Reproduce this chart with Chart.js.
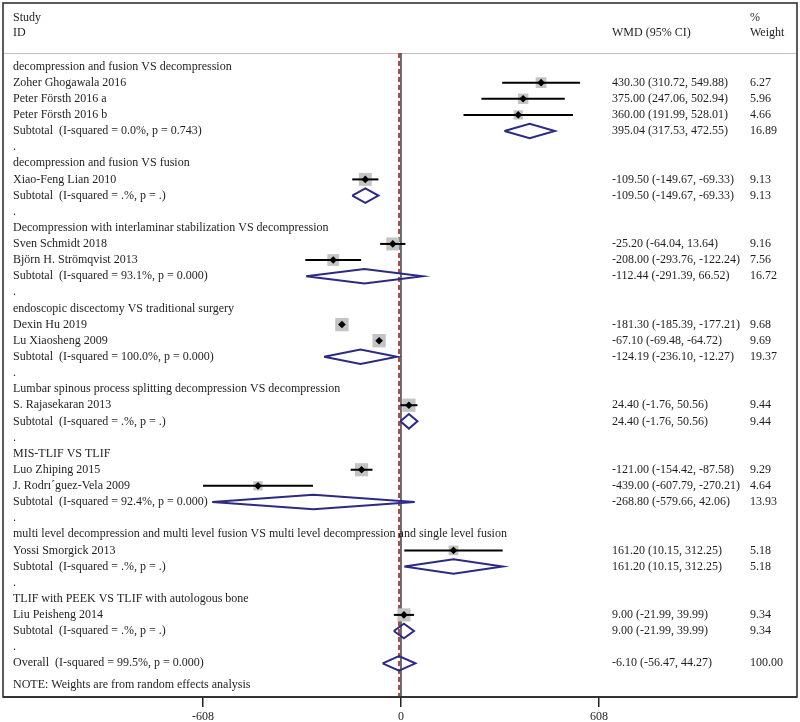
<!DOCTYPE html>
<html><head><meta charset="utf-8">
<script src="https://cdn.jsdelivr.net/npm/chart.js@4.4.1/dist/chart.umd.min.js"></script>
<style>html,body{margin:0;padding:0;background:#fff}#wrap{width:800px;height:722px;position:relative}</style>
</head><body><div id="wrap"><canvas id="c"></canvas></div>
<script>
// ---------- data ----------
const rowLabels = [
  "decompression and fusion VS decompression",
  "Zoher Ghogawala 2016",
  "Peter Försth 2016 a",
  "Peter Försth 2016 b",
  "Subtotal  (I-squared = 0.0%, p = 0.743)",
  ".",
  "decompression and fusion VS fusion",
  "Xiao-Feng Lian 2010",
  "Subtotal  (I-squared = .%, p = .)",
  ".",
  "Decompression with interlaminar stabilization VS decompression",
  "Sven Schmidt 2018",
  "Björn H. Strömqvist 2013",
  "Subtotal  (I-squared = 93.1%, p = 0.000)",
  ".",
  "endoscopic discectomy VS traditional surgery",
  "Dexin Hu 2019",
  "Lu Xiaosheng 2009",
  "Subtotal  (I-squared = 100.0%, p = 0.000)",
  ".",
  "Lumbar spinous process splitting decompression VS decompression",
  "S. Rajasekaran 2013",
  "Subtotal  (I-squared = .%, p = .)",
  ".",
  "MIS-TLIF VS TLIF",
  "Luo Zhiping 2015",
  "J. Rodrı´guez-Vela 2009",
  "Subtotal  (I-squared = 92.4%, p = 0.000)",
  ".",
  "multi level decompression and multi level fusion VS multi level decompression and single level fusion",
  "Yossi Smorgick 2013",
  "Subtotal  (I-squared = .%, p = .)",
  ".",
  "TLIF with PEEK VS TLIF with autologous bone",
  "Liu Peisheng 2014",
  "Subtotal  (I-squared = .%, p = .)",
  ".",
  "Overall  (I-squared = 99.5%, p = 0.000)"
];
const noteText = "NOTE: Weights are from random effects analysis";
const headerStudy = ["Study", "ID"];
const headerEffect = "WMD (95% CI)";
const headerWeight = ["%", "Weight"];

const studyRows   = [2, 3, 4, 8, 12, 13, 17, 18, 22, 26, 27, 31, 35];
const studyEst    = [430.30, 375.00, 360.00, -109.50, -25.20, -208.00, -181.30, -67.10, 24.40, -121.00, -439.00, 161.20, 9.00];
const studyLo     = [310.72, 247.06, 191.99, -149.67, -64.04, -293.76, -185.39, -69.48, -1.76, -154.42, -607.79, 10.15, -21.99];
const studyHi     = [549.88, 502.94, 528.01, -69.33, 13.64, -122.24, -177.21, -64.72, 50.56, -87.58, -270.21, 312.25, 39.99];
const studyWeight = [6.27, 5.96, 4.66, 9.13, 9.16, 7.56, 9.68, 9.69, 9.44, 9.29, 4.64, 5.18, 9.34];

const poolRows    = [5, 9, 14, 19, 23, 28, 32, 36, 38];
const poolEst     = [395.04, -109.50, -112.44, -124.19, 24.40, -268.80, 161.20, 9.00, -6.10];
const poolLo      = [317.53, -149.67, -291.39, -236.10, -1.76, -579.66, 10.15, -21.99, -56.47];
const poolHi      = [472.55, -69.33, 66.52, -12.27, 50.56, 42.06, 312.25, 39.99, 44.27];
const poolWeight  = [16.89, 9.13, 16.72, 19.37, 9.44, 13.93, 5.18, 9.34, 100.00];

const xTicks = [-608, 0, 608];
const nullValue = 0;
const overallEst = poolEst[poolEst.length - 1];

// ---------- layout constants (rows as y units) ----------
const Y_MIN = -2.937, Y_MAX = 40.09;
const HEADER_ROW1 = -2.0, HEADER_ROW2 = -1.08, SEP_ROW = 0.163, NOTE_ROW = 39.34;
const DIAMOND_HALF = 0.45;
const FONT = '"Liberation Serif", "Times New Roman", serif';

function fmt(v){ return v.toFixed(2); }
function ciText(e, l, h){ return fmt(e) + " (" + fmt(l) + ", " + fmt(h) + ")"; }

// ---------- datasets ----------
const datasets = [];
datasets.push({
  type: 'scatter',
  data: studyRows.map((r, i) => ({x: studyEst[i], y: r})),
  pointStyle: 'rectRot', pointRadius: 3.8, backgroundColor: '#000', borderWidth: 0
});
studyRows.forEach((r, i) => {
  datasets.push({
    type: 'line',
    data: [{x: studyLo[i], y: r}, {x: studyHi[i], y: r}],
    borderColor: '#000', borderWidth: 2, pointRadius: 0, fill: false
  });
});
datasets.push({
  type: 'scatter',
  data: studyRows.map((r, i) => ({x: studyEst[i], y: r})),
  pointStyle: 'rect',
  pointRadius: ctx => 4.3 * Math.sqrt(studyWeight[ctx.dataIndex]) / Math.SQRT2,
  backgroundColor: '#c4c4c4', borderWidth: 0
});
poolRows.forEach((r, i) => {
  datasets.push({
    type: 'line',
    data: [
      {x: poolLo[i], y: r}, {x: poolEst[i], y: r - DIAMOND_HALF},
      {x: poolHi[i], y: r}, {x: poolEst[i], y: r + DIAMOND_HALF},
      {x: poolLo[i], y: r}
    ],
    borderColor: '#2b2b85', borderWidth: 2, pointRadius: 0, fill: false, tension: 0
  });
});
datasets.push({
  type: 'line',
  data: [{x: overallEst, y: SEP_ROW}, {x: overallEst, y: Y_MAX}],
  borderColor: '#b8483f', borderWidth: 2, borderDash: [5, 3], pointRadius: 0
});
datasets.push({
  type: 'line',
  data: [{x: nullValue, y: SEP_ROW}, {x: nullValue, y: Y_MAX}],
  borderColor: '#222', borderWidth: 1.3, pointRadius: 0
});

// ---------- text / frame plugin ----------
const forestFrame = {
  id: 'forestFrame',
  beforeDatasetsDraw(chart){
    const {ctx, chartArea: a, scales: {y}} = chart;
    ctx.save();
    ctx.strokeStyle = '#cbbfb8'; ctx.lineWidth = 1;
    const sy = Math.round(y.getPixelForValue(SEP_ROW)) + 0.5;
    ctx.beginPath(); ctx.moveTo(a.left, sy); ctx.lineTo(a.right, sy); ctx.stroke();
    ctx.restore();
  },
  afterDatasetsDraw(chart){
    const {ctx, chartArea: a, scales: {y}} = chart;
    ctx.save();
    ctx.font = '12px ' + FONT;
    ctx.fillStyle = '#1e1e1e';
    ctx.textBaseline = 'middle';
    const xLab = 13, xEff = 612, xW = 750;
    ctx.fillText(headerStudy[0], xLab, y.getPixelForValue(HEADER_ROW1));
    ctx.fillText(headerStudy[1], xLab, y.getPixelForValue(HEADER_ROW2));
    ctx.fillText(headerEffect, xEff, y.getPixelForValue(HEADER_ROW2));
    ctx.fillText(headerWeight[0], xW, y.getPixelForValue(HEADER_ROW1));
    ctx.fillText(headerWeight[1], xW, y.getPixelForValue(HEADER_ROW2));
    rowLabels.forEach((t, i) => ctx.fillText(t, xLab, y.getPixelForValue(i + 1)));
    ctx.fillText(noteText, xLab, y.getPixelForValue(NOTE_ROW));
    studyRows.forEach((r, i) => {
      const py = y.getPixelForValue(r);
      ctx.fillText(ciText(studyEst[i], studyLo[i], studyHi[i]), xEff, py);
      ctx.fillText(fmt(studyWeight[i]), xW, py);
    });
    poolRows.forEach((r, i) => {
      const py = y.getPixelForValue(r);
      ctx.fillText(ciText(poolEst[i], poolLo[i], poolHi[i]), xEff, py);
      ctx.fillText(fmt(poolWeight[i]), xW, py);
    });
    ctx.strokeStyle = '#333'; ctx.lineWidth = 1.6;
    ctx.strokeRect(a.left, a.top, a.right - a.left, a.bottom - a.top);
    ctx.lineWidth = 2;
    ctx.beginPath(); ctx.moveTo(a.left, a.bottom); ctx.lineTo(a.right, a.bottom); ctx.stroke();
    ctx.restore();
  }
};

new Chart(document.getElementById('c'), {
  type: 'scatter',
  data: { datasets },
  plugins: [forestFrame],
  options: {
    responsive: true, maintainAspectRatio: false, animation: false,
    layout: { autoPadding: false, padding: { left: 3, right: 3, top: 3, bottom: 0 } },
    plugins: { legend: { display: false }, tooltip: { enabled: false } },
    scales: {
      x: {
        type: 'linear', min: -1222, max: 1216,
        afterBuildTicks: s => { s.ticks = xTicks.map(v => ({value: v})); },
        afterFit: s => { s.height = 25; },
        grid: { drawOnChartArea: false, drawTicks: true, tickLength: 10, color: '#222', lineWidth: 1.5 },
        border: { display: false },
        ticks: { font: { family: FONT, size: 12 }, color: '#1e1e1e', padding: 3, maxRotation: 0, autoSkip: false,
                 callback: v => String(v) }
      },
      y: { type: 'linear', display: false, reverse: true, min: Y_MIN, max: Y_MAX }
    }
  }
});
</script>
</body></html>
